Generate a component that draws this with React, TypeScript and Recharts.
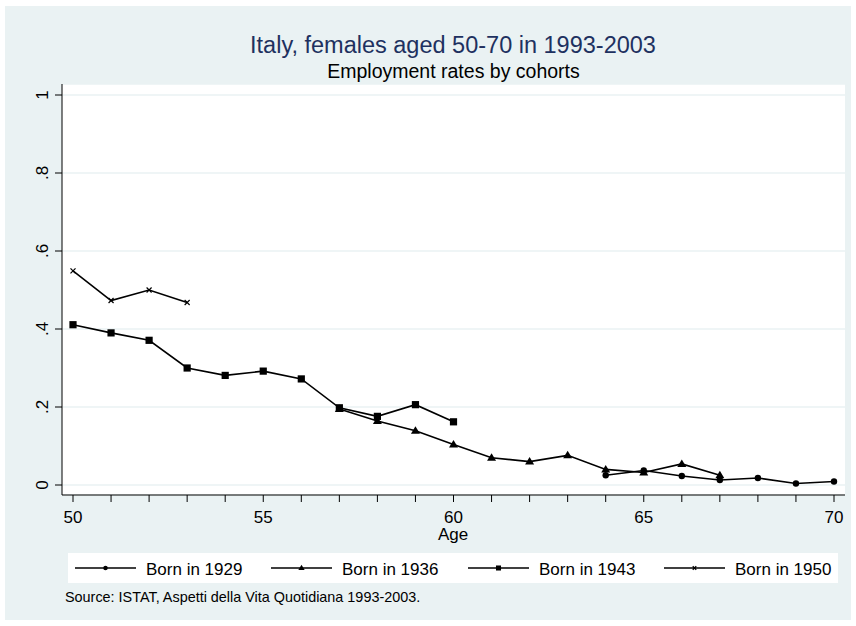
import React from 'react';
import { LineChart, Line, XAxis, YAxis, CartesianGrid } from 'recharts';

// Ages on the x axis and the y tick values/labels
const ages = [50, 51, 52, 53, 54, 55, 56, 57, 58, 59, 60, 61, 62, 63, 64, 65, 66, 67, 68, 69, 70];
const yTicks = [0, 0.2, 0.4, 0.6, 0.8, 1];
const yTickLabels = ['0', '.2', '.4', '.6', '.8', '1'];

// Employment rates per cohort, starting at the first age observed
const born1929Start = 64;
const born1929 = [0.025, 0.037, 0.023, 0.013, 0.018, 0.004, 0.009];
const born1936Start = 57;
const born1936 = [0.195, 0.164, 0.139, 0.104, 0.07, 0.06, 0.076, 0.04, 0.032, 0.054, 0.025];
const born1943Start = 50;
const born1943 = [0.411, 0.39, 0.371, 0.3, 0.281, 0.292, 0.272, 0.198, 0.176, 0.206, 0.162];
const born1950Start = 50;
const born1950 = [0.549, 0.473, 0.5, 0.468];

const pick = (arr: number[], start: number, age: number) => {
    const i = age - start;
    return i >= 0 && i < arr.length ? arr[i] : null;
};

const data = ages.map((age) => ({
    age,
    b1929: pick(born1929, born1929Start, age),
    b1936: pick(born1936, born1936Start, age),
    b1943: pick(born1943, born1943Start, age),
    b1950: pick(born1950, born1950Start, age),
}));

const FONT = '"Liberation Sans", Arial, Helvetica, sans-serif';
const BG = '#EAF2F3';

type Shape = 'circle' | 'triangle' | 'square' | 'x';

function Marker({ cx, cy, shape, s = 1 }: { cx: number; cy: number; shape: Shape; s?: number }) {
    if (shape === 'circle') return <circle cx={cx} cy={cy} r={3.2 * s} fill="#000" />;
    if (shape === 'triangle')
        return (
            <polygon
                points={`${cx},${cy - 4.5 * s} ${cx - 4.5 * s},${cy + 3 * s} ${cx + 4.5 * s},${cy + 3 * s}`}
                fill="#000"
            />
        );
    if (shape === 'square')
        return <rect x={cx - 3.6 * s} y={cy - 3.6 * s} width={7.2 * s} height={7.2 * s} fill="#000" />;
    const d = 2.5 * s;
    return (
        <g stroke="#000" strokeWidth={1.2}>
            <line x1={cx - d} y1={cy - d} x2={cx + d} y2={cy + d} />
            <line x1={cx - d} y1={cy + d} x2={cx + d} y2={cy - d} />
        </g>
    );
}

const makeDot = (shape: Shape) => (props: any) => {
    const { cx, cy, index, value } = props;
    if (cy == null || value == null || isNaN(cy)) return <g key={`d-${shape}-${index}`} />;
    return (
        <g key={`d-${shape}-${index}`}>
            <Marker cx={cx} cy={cy} shape={shape} />
        </g>
    );
};

function YTick(props: any) {
    const { x, y, payload } = props;
    const idx = yTicks.indexOf(payload.value);
    return (
        <text
            x={x}
            y={y}
            transform={`rotate(-90, ${x}, ${y})`}
            textAnchor="middle"
            fontFamily={FONT}
            fontSize={17}
            fill="#000"
        >
            {idx >= 0 ? yTickLabels[idx] : payload.value}
        </text>
    );
}

function XTick(props: any) {
    const { x, y, payload } = props;
    if (payload.value % 5 !== 0) return <g />;
    return (
        <text x={x} y={y} dy="0.71em" textAnchor="middle" fontFamily={FONT} fontSize={17} fill="#000">
            {payload.value}
        </text>
    );
}

const legendItems: { label: string; shape: Shape; x: number }[] = [
    { label: 'Born in 1929', shape: 'circle', x: 75 },
    { label: 'Born in 1936', shape: 'triangle', x: 271 },
    { label: 'Born in 1943', shape: 'square', x: 468 },
    { label: 'Born in 1950', shape: 'x', x: 664 },
];

export default function App() {
    return (
        <div style={{ position: 'absolute', left: 0, top: 0, width: 856, height: 626, background: '#fff' }}>
            <div style={{ position: 'absolute', left: 5, top: 6, width: 846, height: 614, background: BG }} />
            <div style={{ position: 'absolute', left: 0, top: 0 }}>
                <LineChart
                    width={856}
                    height={626}
                    data={data}
                    margin={{ top: 84, right: 11, bottom: 81, left: 12 }}
                >
                    <CartesianGrid vertical={false} stroke={BG} strokeWidth={1.5} fill="#fff" fillOpacity={1} />
                    <XAxis
                        dataKey="age"
                        type="number"
                        domain={[50, 70]}
                        ticks={ages}
                        interval={0}
                        padding={{ left: 11, right: 11 }}
                        height={50}
                        tickSize={7}
                        tickMargin={9}
                        tick={<XTick />}
                        axisLine={{ stroke: '#000', strokeWidth: 1 }}
                        tickLine={{ stroke: '#000', strokeWidth: 1 }}
                    />
                    <YAxis
                        type="number"
                        domain={[0, 1]}
                        ticks={yTicks}
                        interval={0}
                        padding={{ top: 11, bottom: 10 }}
                        width={50}
                        tickSize={7}
                        tickMargin={7}
                        tick={<YTick />}
                        axisLine={{ stroke: '#000', strokeWidth: 1 }}
                        tickLine={{ stroke: '#000', strokeWidth: 1 }}
                    />
                    <Line dataKey="b1929" stroke="#000" strokeWidth={1.6} dot={makeDot('circle')} activeDot={false} isAnimationActive={false} />
                    <Line dataKey="b1936" stroke="#000" strokeWidth={1.6} dot={makeDot('triangle')} activeDot={false} isAnimationActive={false} />
                    <Line dataKey="b1943" stroke="#000" strokeWidth={1.6} dot={makeDot('square')} activeDot={false} isAnimationActive={false} />
                    <Line dataKey="b1950" stroke="#000" strokeWidth={1.6} dot={makeDot('x')} activeDot={false} isAnimationActive={false} />
                </LineChart>
            </div>
            {/* titles, axis title, legend and note */}
            <svg width={856} height={626} style={{ position: 'absolute', left: 0, top: 0, pointerEvents: 'none' }}>
                <text x={453} y={53} textAnchor="middle" fontFamily={FONT} fontSize={23.5} fill="#1E3160">
                    Italy, females aged 50-70 in 1993-2003
                </text>
                <text x={453.5} y={78} textAnchor="middle" fontFamily={FONT} fontSize={19.5} fill="#000">
                    Employment rates by cohorts
                </text>
                <text x={453} y={540} textAnchor="middle" fontFamily={FONT} fontSize={17} fill="#000">
                    Age
                </text>
                <rect x={68} y={553} width={770} height={30} fill="#fff" />
                {legendItems.map((it) => (
                    <g key={it.label}>
                        <line x1={it.x} y1={568} x2={it.x + 61} y2={568} stroke="#000" strokeWidth={1.6} />
                        <Marker cx={it.x + 30.5} cy={568} shape={it.shape} s={0.7} />
                        <text x={it.x + 71} y={575} fontFamily={FONT} fontSize={17} fill="#000">
                            {it.label}
                        </text>
                    </g>
                ))}
                <text x={65} y={602} fontFamily={FONT} fontSize={14.4} fill="#000">
                    Source: ISTAT, Aspetti della Vita Quotidiana 1993-2003.
                </text>
            </svg>
        </div>
    );
}
